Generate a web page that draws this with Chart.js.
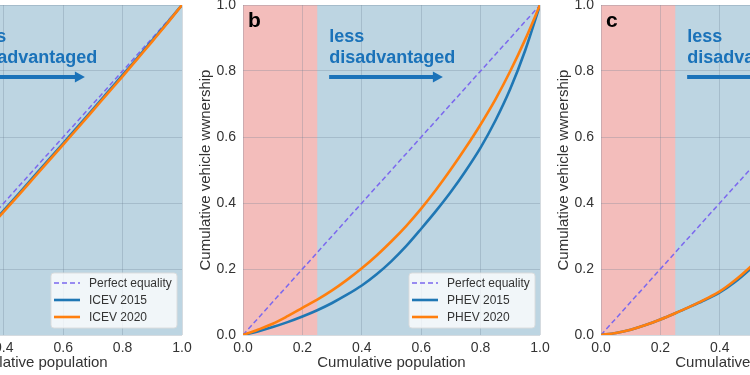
<!DOCTYPE html>
<html><head><meta charset="utf-8">
<script src="https://cdn.jsdelivr.net/npm/chart.js@4.4.0/dist/chart.umd.min.js"></script>
<style>
html,body{margin:0;padding:0;background:#fff;}
#wrap{position:relative;width:750px;height:375px;overflow:hidden;background:#fff;}
.p{position:absolute;top:0;width:372px;height:375px;}
</style></head><body>
<div id="wrap">
<div class="p" style="left:-173px"><canvas id="ca" width="372" height="375"></canvas></div>
<div class="p" style="left:185px"><canvas id="cb" width="372" height="375"></canvas></div>
<div class="p" style="left:543px"><canvas id="cc" width="372" height="375"></canvas></div>
</div>
<script>
// ---- data ----
const xs = [0,0.05,0.1,0.15,0.2,0.25,0.3,0.35,0.4,0.45,0.5,0.55,0.6,0.65,0.7,0.75,0.8,0.85,0.9,0.95,1];
const equalityX = [0,1];
const equalityY = [0,1];
const icev2015 = [0,0.043,0.088,0.135,0.182,0.23,0.279,0.328,0.378,0.428,0.479,0.53,0.581,0.632,0.684,0.736,0.788,0.84,0.893,0.946,1];
const icev2020 = [0,0.041,0.085,0.131,0.178,0.226,0.275,0.324,0.374,0.424,0.475,0.526,0.577,0.628,0.68,0.732,0.784,0.837,0.89,0.944,1];
const phev2015 = [0,0.011,0.024,0.039,0.056,0.075,0.097,0.122,0.15,0.184,0.224,0.27,0.322,0.376,0.434,0.498,0.568,0.65,0.746,0.862,1];
const phev2020 = [0,0.016,0.034,0.057,0.082,0.107,0.135,0.167,0.202,0.241,0.284,0.331,0.383,0.44,0.502,0.568,0.638,0.714,0.8,0.895,1];
const bev2015 = [0,0.006,0.016,0.03,0.047,0.066,0.086,0.106,0.129,0.16,0.198,0.24,0.287,0.34,0.4,0.467,0.543,0.63,0.73,0.85,1];
const bev2020 = [0,0.006,0.016,0.03,0.047,0.066,0.086,0.108,0.132,0.165,0.204,0.247,0.295,0.349,0.41,0.478,0.555,0.642,0.74,0.857,1];
const tickLabels = ['0.0','0.2','0.4','0.6','0.8','1.0'];
const xTitle = 'Cumulative population';
const yTitle = 'Cumulative vehicle wwnership';
const equalityLabel = 'Perfect equality';

// ---- styling ----
const FONT = "'Liberation Sans', Arial, sans-serif";
Chart.defaults.font.family = FONT;
const BG_BLUE = '#bdd5e2';
const BG_RED = '#f3bdbb';
const GRID = 'rgba(105,125,145,0.28)';
const TXT = '#333';
const NOTE = '#1a72b9';

const deco = {
  id: 'deco',
  beforeDraw(chart, args, o) {
    const {ctx, chartArea: a, scales: {x}} = chart;
    ctx.save();
    ctx.fillStyle = BG_BLUE;
    ctx.fillRect(a.left, a.top, a.width, a.height);
    const r = x.getPixelForValue(o.redTo);
    ctx.fillStyle = BG_RED;
    ctx.fillRect(a.left, a.top, r - a.left, a.height);
    ctx.restore();
  },
  afterDraw(chart, args, o) {
    const {ctx, chartArea: a, scales: {x, y}} = chart;
    ctx.save();
    ctx.fillStyle = '#000';
    ctx.font = 'bold 21px ' + FONT;
    ctx.textBaseline = 'alphabetic';
    ctx.textAlign = 'left';
    ctx.fillText(o.letter, x.getPixelForValue(0.017), y.getPixelForValue(0.933));
    ctx.fillStyle = NOTE;
    ctx.font = 'bold 18px ' + FONT;
    const tx = x.getPixelForValue(0.29);
    ctx.fillText('less', tx, y.getPixelForValue(0.888));
    ctx.fillText('disadvantaged', tx, y.getPixelForValue(0.824));
    const ay = y.getPixelForValue(0.782);
    const ax1 = x.getPixelForValue(0.673);
    ctx.strokeStyle = NOTE; ctx.lineWidth = 4;
    ctx.beginPath(); ctx.moveTo(tx, ay); ctx.lineTo(ax1 - 8, ay); ctx.stroke();
    ctx.beginPath(); ctx.moveTo(ax1, ay); ctx.lineTo(ax1 - 10, ay - 5.5); ctx.lineTo(ax1 - 10, ay + 5.5); ctx.closePath(); ctx.fill();
    const bx = a.right - 131, by = a.bottom - 62, bw = 126, bh = 55;
    ctx.fillStyle = 'rgba(255,255,255,0.78)';
    ctx.strokeStyle = 'rgba(220,220,220,0.9)';
    ctx.lineWidth = 1;
    ctx.beginPath();
    if (ctx.roundRect) ctx.roundRect(bx, by, bw, bh, 3); else ctx.rect(bx, by, bw, bh);
    ctx.fill(); ctx.stroke();
    const rows = [a.bottom - 52, a.bottom - 35, a.bottom - 18];
    chart.data.datasets.forEach((ds, i) => {
      const ry = rows[i];
      ctx.strokeStyle = ds.borderColor;
      ctx.lineWidth = ds.borderWidth;
      ctx.setLineDash(ds.borderDash || []);
      ctx.beginPath(); ctx.moveTo(bx + 3, ry); ctx.lineTo(bx + 29, ry); ctx.stroke();
      ctx.setLineDash([]);
      ctx.fillStyle = TXT;
      ctx.font = '12px ' + FONT;
      ctx.textBaseline = 'middle';
      ctx.fillText(ds.label, bx + 38, ry + 0.5);
    });
    ctx.restore();
  }
};

function pts(xv, yv) { return xv.map((v, i) => ({x: v, y: yv[i]})); }
function tickCb(v) { const i = Math.round(v / 0.2); return tickLabels[i] !== undefined ? tickLabels[i] : ''; }

function makeChart(id, letter, labels, s2015, s2020) {
  new Chart(document.getElementById(id), {
    type: 'scatter',
    data: {
      datasets: [
        {label: equalityLabel, data: pts(equalityX, equalityY), showLine: true, borderColor: '#7b68ee', borderWidth: 1.5, borderDash: [5, 3], pointRadius: 0, order: 2},
        {label: labels[0], data: pts(xs, s2015), showLine: true, borderColor: '#1f77b4', borderWidth: 2.6, pointRadius: 0, cubicInterpolationMode: 'monotone', order: 1},
        {label: labels[1], data: pts(xs, s2020), showLine: true, borderColor: '#ff7f0e', borderWidth: 2.6, pointRadius: 0, cubicInterpolationMode: 'monotone', order: 0}
      ]
    },
    options: {
      responsive: false, animation: false, devicePixelRatio: 1,
      layout: {padding: {top: 5, right: 17, left: 0, bottom: 0}},
      plugins: {legend: {display: false}, tooltip: {enabled: false}, deco: {letter: letter, redTo: 0.25}},
      scales: {
        x: {
          type: 'linear', min: 0, max: 1,
          ticks: {stepSize: 0.2, callback: tickCb, color: TXT, font: {size: 14}, padding: 5, maxRotation: 0, autoSkip: false},
          grid: {color: GRID, drawTicks: false}, border: {display: false},
          title: {display: true, text: xTitle, color: TXT, font: {size: 15}, padding: {top: 0, bottom: 3}},
          afterFit(s) { s.height = 40; s.paddingLeft = 0; s.paddingRight = 0; }
        },
        y: {
          type: 'linear', min: 0, max: 1,
          ticks: {stepSize: 0.2, callback: tickCb, color: TXT, font: {size: 14}, padding: 7, autoSkip: false},
          grid: {color: GRID, drawTicks: false}, border: {display: false},
          title: {display: true, text: yTitle, color: TXT, font: {size: 15}, padding: {top: 12, bottom: 0}},
          afterFit(s) { s.width = 58; s.paddingTop = 0; s.paddingBottom = 0; }
        }
      }
    },
    plugins: [deco]
  });
}

makeChart('ca', 'a', ['ICEV 2015', 'ICEV 2020'], icev2015, icev2020);
makeChart('cb', 'b', ['PHEV 2015', 'PHEV 2020'], phev2015, phev2020);
makeChart('cc', 'c', ['BEV 2015', 'BEV 2020'], bev2015, bev2020);
</script>
</body></html>
